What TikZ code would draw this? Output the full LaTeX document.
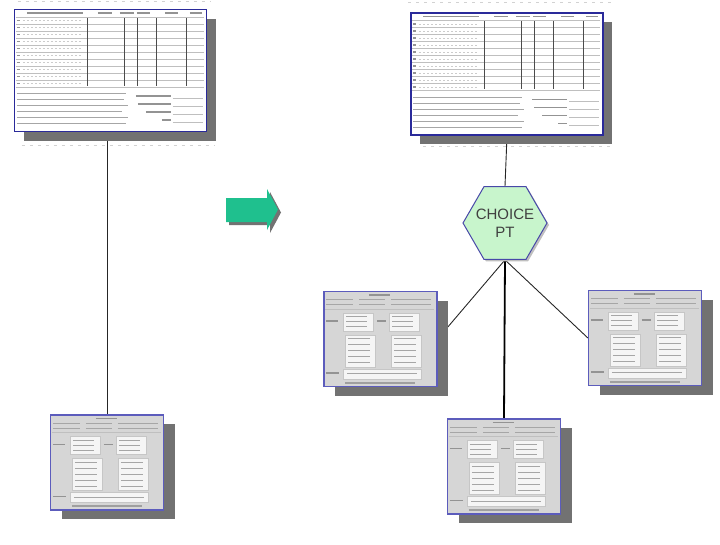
\documentclass[tikz,border=0pt]{standalone}
\usepackage{fontspec}
\newfontfamily\labelfont{Liberation Sans}
\usetikzlibrary{shapes.geometric,shadows,backgrounds}
\definecolor{formblue}{HTML}{2A2A9A}
\definecolor{dlgblue}{HTML}{5C5CBC}
\definecolor{hexgreen}{HTML}{C8F5CC}
\definecolor{hexblue}{HTML}{4848A8}
\definecolor{arrowgreen}{HTML}{1FC08E}
\definecolor{shadowgray}{HTML}{727272}
\definecolor{panelgray}{HTML}{D6D6D6}

\newcommand\formgrid[1]{%
  \begin{scope}[shift={(#1.north west)}]
    \foreach \a/\b in {13/69,84/98,106/120,123/136,151/164,176/188}
      \draw[blob] (\a,4) -- (\b,4);
    \draw[rule] (2,8) -- (190,8);
    \foreach \k in {1,...,10} {
      \draw[rule] (2,8+7*\k) -- (190,8+7*\k);
      \draw[blob] (3,4.5+7*\k) -- (6,4.5+7*\k);
      \draw[faint] (9,5+7*\k) -- (68,5+7*\k);
    }
    \foreach \x in {74,111,124,143,173}
      \draw[colline] (\x,9) -- (\x,77);
    \foreach \y/\a/\b in {85/3/112,91/3/110,97/3/114,103/3/108,109/3/114,115/3/112}
      \draw[thinblob] (\a,\y) -- (\b,\y);
    \foreach \y/\a in {87/122,95/124,103/132,111/148} {
      \draw[blob] (\a,\y) -- (157,\y);
      \draw[rule] (159,\y+2) -- (189,\y+2);
    }
  \end{scope}}

\newcommand\panelgrid[1]{%
  \begin{scope}[shift={(#1.north west)}]
    \draw[blob] (46,4) -- (67,4);
    \foreach \y in {9,14} {
      \draw[thinblob] (3,\y) -- (30,\y);
      \draw[thinblob] (36,\y) -- (62,\y);
      \draw[thinblob] (68,\y) -- (108,\y);
    }
    \draw[rule] (2,18) -- (111,18);
    \foreach \x in {20,66} {
      \draw[cell] (\x,22) rectangle ++(30,18);
      \draw[cell] (\x+2,44) rectangle ++(30,32);
      \foreach \y in {26,31,36}
        \draw[thinblob] (\x+3,\y) -- (\x+24,\y);
      \foreach \y in {48,54,60,66,72}
        \draw[thinblob] (\x+5,\y) -- (\x+27,\y);
    }
    \draw[cell] (20,78) rectangle (98,88);
    \draw[thinblob] (24,83) -- (94,83);
    \draw[blob] (3,30) -- (15,30);
    \draw[blob] (54,30) -- (63,30);
    \draw[blob] (3,82) -- (16,82);
    \draw[bar] (22,92) -- (92,92);
  \end{scope}}

\begin{document}
\begin{tikzpicture}
    [x=1pt,y=-1pt,
     form/.style={draw=formblue,line width=1.4pt,fill=white,minimum width=192pt,minimum height=122pt,inner sep=0pt,
       drop shadow={shadow xshift=9pt,shadow yshift=-9pt,fill=shadowgray,opacity=1}},
     panel/.style={draw=dlgblue,line width=1.2pt,fill=panelgray,minimum width=113pt,minimum height=95pt,inner sep=0pt,
       drop shadow={shadow xshift=11pt,shadow yshift=-9pt,fill=shadowgray,opacity=1}},
     choice/.style={regular polygon,regular polygon sides=6,minimum size=84pt,inner sep=0pt,fill=hexgreen,draw=hexblue,line width=1pt,
       drop shadow={shadow xshift=2pt,shadow yshift=-2pt,fill=gray!50,opacity=1}},
     choicetext/.style={align=center,text=black!75,inner sep=0pt,font=\labelfont\fontsize{15}{18}\selectfont},
     blob/.style={gray!85,line width=1.5pt},
     thinblob/.style={gray!70,line width=1pt},
     faint/.style={gray!40,line width=0.8pt,dash pattern=on 2pt off 2pt},
     rule/.style={gray!50,line width=0.5pt},
     colline/.style={gray!60!black,line width=1.3pt},
     cell/.style={draw=gray!45,fill=white!92!gray,line width=0.4pt},
     bar/.style={gray!75,line width=2pt},
     ruler/.style={gray!35,line width=0.8pt,dash pattern=on 3pt off 5pt},
     link/.style={gray!30!black,line width=0.9pt},
     heavy/.style={black,line width=1.8pt}]
  \useasboundingbox (0,0) rectangle (720,544);

  \node [form] (F1) at (110.5,70.5) {};
  \node [form] (F2) at (507,74) {};
  \formgrid{F1}
  \formgrid{F2}

  \draw [ruler] ([xshift=4pt,yshift=7pt]F1.north west) -- ([xshift=4pt,yshift=7pt]F1.north east);
  \draw [ruler] ([xshift=8pt,yshift=-13pt]F1.south west) -- ([xshift=8pt,yshift=-13pt]F1.south east);
  \draw [ruler] ([xshift=-2pt,yshift=10pt]F2.north west) -- ([xshift=10pt,yshift=10pt]F2.north east);
  \draw [ruler] ([xshift=13pt,yshift=-11pt]F2.south west) -- ([xshift=10pt,yshift=-11pt]F2.south east);

  \node [panel] (D1) at (107,462.5) {};
  \node [panel] (D2) at (380.5,339) {};
  \node [panel] (D3) at (504,466.5) {};
  \node [panel] (D4) at (645,338) {};
  \foreach \p in {D1,D2,D3,D4} {\panelgrid{\p}}

  \node [choice] (pt) at (505,223) {};
  \node [choicetext] (ptlabel) at (pt.center) {CHOICE\\PT};

  \fill [shadowgray,xshift=3pt,yshift=-3pt]
    (226,198) -- (267,198) -- (267,189) -- (278,209.5) -- (267,230) -- (267,222) -- (226,222) -- cycle;
  \fill [arrowgreen]
    (226,198) -- (267,198) -- (267,189) -- (278,209.5) -- (267,230) -- (267,222) -- (226,222) -- cycle;

  \begin{scope}[on background layer]
    \draw [link] (D1.north |- F1.south) -- (D1.north);
    \draw [link] (F2.south) -- (pt.north);
    \draw [link] (pt.south) -- (D2.east);
    \draw [link] (pt.south) -- (D4.west);
    \draw [heavy] (pt.south) -- (D3.north);
  \end{scope}
\end{tikzpicture}
\end{document}
